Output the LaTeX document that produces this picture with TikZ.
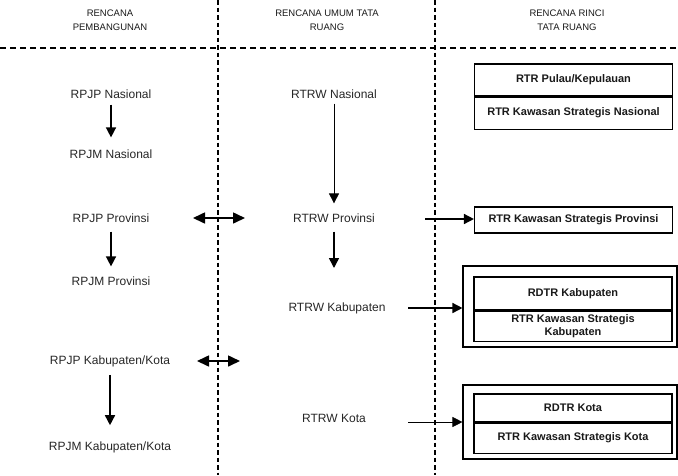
\documentclass[tikz,border=0pt]{standalone}
\usepackage{fontspec}
\setmainfont{Liberation Sans}
\usetikzlibrary{arrows.meta}
\begin{document}
\begin{tikzpicture}[x=1pt,y=-1pt,
  lbl/.style={font=\fontsize{12}{13}\selectfont, text=black!85, inner sep=1pt},
  hdr/.style={font=\fontsize{9.5}{14}\selectfont, align=center, text=black!90},
  boxtxt/.style={font=\bfseries\fontsize{11}{12.5}\selectfont, align=center, text=black!90},
  cell/.style={draw, line width=1.1pt, minimum width=198pt, inner sep=0pt, boxtxt},
  outerbox/.style={draw, line width=1.1pt, minimum width=214pt, inner sep=0pt},
  sep/.style={line width=1.2pt, dash pattern=on 4.5pt off 3pt},
  tip/.style={-{Triangle[length=10pt,width=10pt]}},
  down/.style={line width=1.5pt, tip},
  thin/.style={line width=0.7pt, tip},
  both/.style={line width=1.6pt, {Triangle[length=12pt,width=11pt]}-{Triangle[length=12pt,width=11pt]}}
]
\useasboundingbox (0,0) rectangle (678,475);

% separators
\coordinate (v1t) at (218,0); \coordinate (v1b) at (218,475);
\coordinate (v2t) at (435,0); \coordinate (v2b) at (435,475);
\coordinate (hl) at (0,48); \coordinate (hr) at (678,48);
\draw[sep] (v1t) -- (v1b);
\draw[sep] (v2t) -- (v2b);
\draw[line width=1.5pt, dash pattern=on 6pt off 4pt] (hl) -- (hr);

% headers
\node[hdr] (h1) at (110,20.5) {RENCANA\\PEMBANGUNAN};
\node[hdr] (h2) at (327,20.5) {RENCANA UMUM TATA\\RUANG};
\node[hdr] (h3) at (567,20.5) {RENCANA RINCI\\TATA RUANG};

% left column
\node[lbl] (rpjpn) at (111,94) {RPJP Nasional};
\node[lbl] (rpjmn) at (111,154) {RPJM Nasional};
\node[lbl] (rpjpp) at (111,218) {RPJP Provinsi};
\node[lbl] (rpjmp) at (111,281) {RPJM Provinsi};
\node[lbl] (rpjpk) at (110,361) {RPJP Kabupaten/Kota};
\node[lbl] (rpjmk) at (110,447) {RPJM Kabupaten/Kota};

\draw[down] ([yshift=-5pt]rpjpn.south) -- ([yshift=11pt]rpjmn.north);
\draw[down] ([yshift=-8pt]rpjpp.south) -- ([yshift=9pt]rpjmp.north);
\draw[down] ([yshift=-7pt]rpjpk.south) -- ([yshift=15pt]rpjmk.north);

% middle column
\node[lbl] (rtrwn) at (334,94) {RTRW Nasional};
\node[lbl] (rtrwp) at (334,218) {RTRW Provinsi};
\node[lbl] (rtrwk) at (337,308) {RTRW Kabupaten};
\node[lbl] (rtrwkt) at (334,418) {RTRW Kota};

\coordinate (pend) at (334,268);
\draw[thin] ([yshift=-4pt]rtrwn.south) -- ([yshift=9pt]rtrwp.north);
\draw[down] ([yshift=-8pt]rtrwp.south) -- (pend);

% double arrows
\coordinate (d1a) at (193,218); \coordinate (d1b) at (245,218);
\coordinate (d2a) at (197,361); \coordinate (d2b) at (240,361);
\draw[both] (d1a) -- (d1b);
\draw[both] (d2a) -- (d2b);

% right column boxes
\node[cell, minimum height=32pt] (pulau) at (573.5,80) {RTR Pulau/Kepulauan};
\node[cell, minimum height=32pt, anchor=north] (ksn) at (pulau.south) {RTR Kawasan Strategis Nasional};

\node[cell, minimum height=26pt] (ksp) at (573.5,220) {RTR Kawasan Strategis Provinsi};

\node[outerbox, minimum height=81pt] (kabout) at (570,306.5) {};
\node[cell, minimum height=33pt] (rdtrk) at (573,293.5) {RDTR Kabupaten};
\node[cell, minimum height=30pt, anchor=north] (ksk) at (rdtrk.south) {RTR Kawasan Strategis\\Kabupaten};

\node[outerbox, minimum height=74pt] (kotaout) at (570,422) {};
\node[cell, minimum height=28pt] (rdtrkt) at (573,408) {RDTR Kota};
\node[cell, minimum height=30pt, anchor=north] (kskt) at (rdtrkt.south) {RTR Kawasan Strategis Kota};

% arrows to right
\coordinate (s1) at (425,219);
\coordinate (s2) at (408,308);
\coordinate (s3) at (408,422);
\draw[down] (s1) -- (ksp.west |- s1);
\draw[down] (s2) -- (kabout.west |- s2);
\draw[thin] (s3) -- (kotaout.west |- s3);
\end{tikzpicture}
\end{document}
